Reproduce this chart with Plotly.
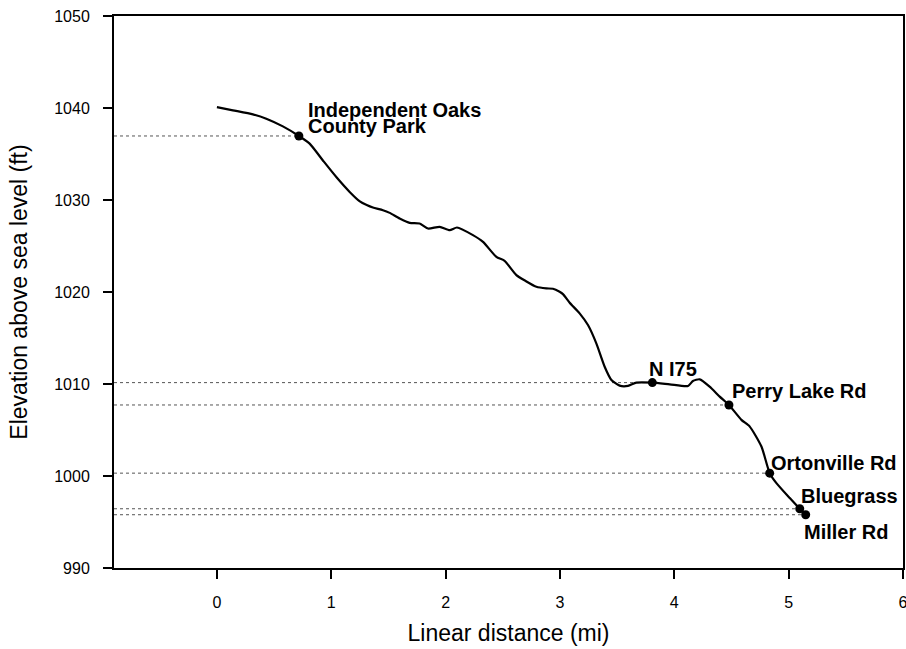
import plotly.graph_objects as go

# Elevation profile (linear distance in miles, elevation in ft)
dist = [0.000, 0.140, 0.315, 0.432, 0.577, 0.717, 0.811, 0.927, 1.044, 1.161,
        1.250, 1.310, 1.364, 1.452, 1.511, 1.598, 1.686, 1.773, 1.846, 1.948,
        2.036, 2.099, 2.239, 2.327, 2.444, 2.516, 2.619, 2.700, 2.794, 2.881,
        2.939, 2.997, 3.026, 3.085, 3.172, 3.245, 3.318, 3.391, 3.450, 3.522,
        3.595, 3.668, 3.808, 3.960, 4.120, 4.163, 4.222, 4.309, 4.397, 4.478,
        4.587, 4.660, 4.762, 4.834, 4.893, 5.010, 5.097, 5.149]
elev = [1040.10, 1039.75, 1039.31, 1038.84, 1038.00, 1036.96, 1036.13, 1034.30, 1032.50, 1030.88,
        1029.85, 1029.45, 1029.18, 1028.89, 1028.60, 1027.99, 1027.51, 1027.45, 1026.90, 1027.08,
        1026.72, 1027.01, 1026.18, 1025.45, 1023.82, 1023.39, 1021.84, 1021.20, 1020.57, 1020.39,
        1020.35, 1020.02, 1019.77, 1018.83, 1017.68, 1016.41, 1014.42, 1011.88, 1010.44, 1009.82,
        1009.79, 1010.15, 1010.15, 1009.97, 1009.79, 1010.33, 1010.51, 1009.71, 1008.63, 1007.72,
        1006.10, 1005.37, 1003.20, 1000.31, 999.23, 997.60, 996.44, 995.79]

# Landmarks
site_names = ["Independent Oaks\nCounty Park", "N I75", "Perry Lake Rd",
              "Ortonville Rd", "Bluegrass", "Miller Rd"]
site_dist = [0.717, 3.808, 4.478, 4.834, 5.097, 5.149]
site_elev = [1036.96, 1010.15, 1007.72, 1000.31, 996.44, 995.79]

x_ticks = [0, 1, 2, 3, 4, 5, 6]
y_ticks = [990, 1000, 1010, 1020, 1030, 1040, 1050]
x_min, x_max = -0.9, 6
y_min, y_max = 990, 1050

FONT = "Liberation Sans, Arial, sans-serif"

fig = go.Figure()

# dotted reference lines from the y axis to each landmark
for sx, sy in zip(site_dist, site_elev):
    fig.add_trace(go.Scatter(
        x=[x_min, sx], y=[sy, sy], mode="lines",
        line=dict(color="#555555", width=1, dash="dot"),
        hoverinfo="skip", showlegend=False))

fig.add_trace(go.Scatter(
    x=dist, y=elev, mode="lines",
    line=dict(color="black", width=2.2, shape="spline", smoothing=0.6),
    showlegend=False))

fig.add_trace(go.Scatter(
    x=site_dist, y=site_elev, mode="markers",
    marker=dict(color="black", size=9),
    showlegend=False))

# label offsets in pixels (xshift, yshift) per landmark line
label_offsets = {
    "Independent Oaks": (7, 26),
    "County Park": (7, 10),
    "N I75": (-5, 14),
    "Perry Lake Rd": (1, 14),
    "Ortonville Rd": (-1, 10),
    "Bluegrass": (-1, 13),
    "Miller Rd": (-4, -17),
}
for name, sx, sy in zip(site_names, site_dist, site_elev):
    for line in name.split("\n"):
        dx, dy = label_offsets[line]
        fig.add_annotation(
            x=sx, y=sy, xref="x", yref="y", text=line, showarrow=False,
            xanchor="left", yanchor="middle", xshift=dx, yshift=dy,
            font=dict(family=FONT, size=20, color="black", weight="bold"))

axis_common = dict(
    showgrid=False, zeroline=False, showline=True, linecolor="black",
    linewidth=2, mirror=True, ticks="outside", ticklen=9, tickwidth=2,
    tickcolor="black", tickfont=dict(family=FONT, size=16, color="black"),
    automargin=False, ticklabeloverflow="allow",
)

fig.update_xaxes(
    range=[x_min, x_max], tickvals=x_ticks, ticktext=[str(v) for v in x_ticks],
    title=dict(text="Linear distance (mi)", font=dict(family=FONT, size=23, color="black"),
               standoff=15),
    ticklabelstandoff=10, **axis_common)
fig.update_yaxes(
    range=[y_min, y_max], tickvals=y_ticks, ticktext=[str(v) for v in y_ticks],
    title=dict(text="Elevation above sea level (ft)",
               font=dict(family=FONT, size=23, color="black"), standoff=20),
    ticklabelstandoff=10, **axis_common)

fig.update_layout(
    width=906, height=649,
    margin=dict(l=114, r=3, t=16, b=81),
    plot_bgcolor="white", paper_bgcolor="white",
    font=dict(family=FONT, color="black"),
)

fig.write_html(
    "out.html",
    config={"displayModeBar": False},
    post_script="document.body.style.margin='0';document.body.style.overflow='hidden';",
)
